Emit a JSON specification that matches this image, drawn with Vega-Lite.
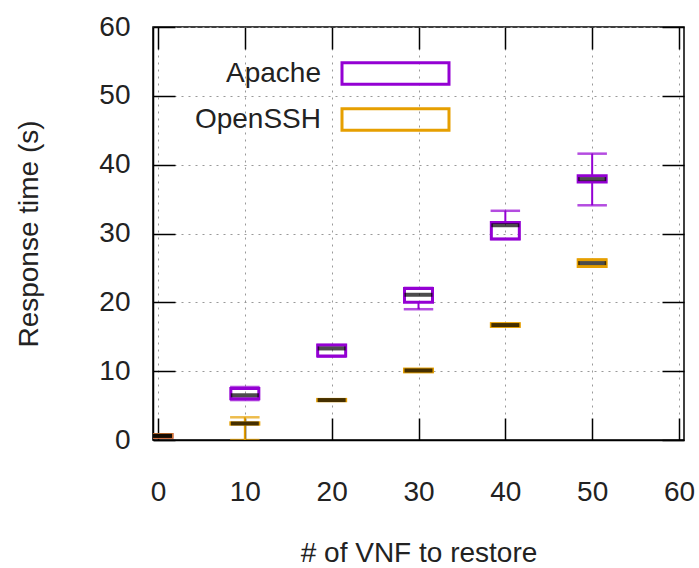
{
  "$schema": "https://vega.github.io/schema/vega-lite/v6.json",
  "autosize": "none",
  "width": 531,
  "height": 413,
  "padding": {"left": 153, "top": 27, "right": 15, "bottom": 128},
  "background": "white",
  "config": {
    "font": "Liberation Sans",
    "view": {"stroke": "black", "strokeWidth": 1.5},
    "axis": {"labelFont": "Liberation Sans", "titleFont": "Liberation Sans", "labelFontSize": 28, "titleFontSize": 28, "titleFontWeight": "normal", "labelColor": "#222", "titleColor": "#222", "domainColor": "black", "domainWidth": 1.5, "tickColor": "black", "tickWidth": 1.5, "gridColor": "#999", "gridDash": [2, 5], "gridWidth": 1}
  },
  "data": {"values": [
    {"series": "Apache", "n": 0, "min": 0.4, "q1": 0.4, "median": 0.6, "q3": 0.8, "max": 0.8},
    {"series": "Apache", "n": 10, "min": 5.8, "q1": 6.0, "median": 6.5, "q3": 7.5, "max": 7.7},
    {"series": "Apache", "n": 20, "min": 12.1, "q1": 12.2, "median": 13.3, "q3": 13.8, "max": 13.8},
    {"series": "Apache", "n": 30, "min": 19.0, "q1": 20.0, "median": 21.1, "q3": 22.0, "max": 22.1},
    {"series": "Apache", "n": 40, "min": 29.2, "q1": 29.2, "median": 31.2, "q3": 31.6, "max": 33.3},
    {"series": "Apache", "n": 50, "min": 34.1, "q1": 37.5, "median": 37.9, "q3": 38.4, "max": 41.6},
    {"series": "OpenSSH", "n": 0, "min": 0.4, "q1": 0.4, "median": 0.6, "q3": 0.8, "max": 0.8},
    {"series": "OpenSSH", "n": 10, "min": 0.0, "q1": 2.3, "median": 2.4, "q3": 2.5, "max": 3.3},
    {"series": "OpenSSH", "n": 20, "min": 5.7, "q1": 5.7, "median": 5.8, "q3": 5.9, "max": 5.9},
    {"series": "OpenSSH", "n": 30, "min": 9.9, "q1": 9.9, "median": 10.1, "q3": 10.3, "max": 10.3},
    {"series": "OpenSSH", "n": 40, "min": 16.5, "q1": 16.5, "median": 16.7, "q3": 16.9, "max": 16.9},
    {"series": "OpenSSH", "n": 50, "min": 25.2, "q1": 25.2, "median": 25.7, "q3": 26.2, "max": 26.2}
  ]},
  "resolve": {"axis": {"x": "independent", "y": "independent"}},
  "layer": [
    {
      "mark": {"type": "rule", "strokeWidth": 2, "clip": true},
      "encoding": {
        "x": {"field": "n", "type": "quantitative", "scale": {"domain": [0, 60], "nice": false}, "axis": {"title": "# of VNF to restore", "values": [0, 10, 20, 30, 40, 50, 60], "tickSize": -22, "labelPadding": 60, "titlePadding": 33, "grid": true}},
        "y": {"field": "min", "type": "quantitative", "scale": {"domain": [0, 60], "nice": false}, "axis": {"title": "Response time (s)", "values": [0, 10, 20, 30, 40, 50, 60], "tickSize": -22, "labelPadding": 45, "titlePadding": 55, "grid": true}},
        "y2": {"field": "q1"},
        "color": {"field": "series", "type": "nominal", "scale": {"domain": ["Apache", "OpenSSH"], "range": ["#9400d3", "#e69f00"]}}
      }
    },
    {
      "mark": {"type": "rule", "strokeWidth": 2, "clip": true},
      "encoding": {
        "x": {"field": "n", "type": "quantitative", "axis": {"orient": "top", "values": [0, 10, 20, 30, 40, 50, 60], "labels": false, "title": null, "tickSize": -22, "grid": false, "domain": false}},
        "y": {"field": "q3", "type": "quantitative", "axis": {"orient": "right", "values": [0, 10, 20, 30, 40, 50, 60], "labels": false, "title": null, "tickSize": -22, "grid": false, "domain": false}},
        "y2": {"field": "max"},
        "color": {"field": "series", "type": "nominal"}
      }
    },
    {
      "mark": {"type": "bar", "size": 28, "filled": false, "strokeWidth": 3, "clip": true},
      "encoding": {
        "x": {"field": "n", "type": "quantitative", "axis": null},
        "y": {"field": "q1", "type": "quantitative", "axis": null},
        "y2": {"field": "q3"},
        "color": {"field": "series", "type": "nominal", "legend": {"title": null, "orient": "none", "legendX": 214, "legendY": 18, "padding": 0, "symbolType": "M-2,-0.4H2V0.4H-2Z", "symbolSize": 2862, "symbolStrokeWidth": 3, "labelAlign": "right", "labelOffset": -103, "labelFontSize": 28, "labelFont": "Liberation Sans", "labelColor": "#222", "rowPadding": -8}}
      }
    },
    {
      "mark": {"type": "tick", "orient": "horizontal", "size": 28, "thickness": 1, "filled": false, "strokeWidth": 1.5, "clip": true},
      "encoding": {
        "x": {"field": "n", "type": "quantitative", "axis": null},
        "y": {"field": "min", "type": "quantitative", "axis": null},
        "color": {"field": "series", "type": "nominal"}
      }
    },
    {
      "mark": {"type": "tick", "orient": "horizontal", "size": 28, "thickness": 1, "filled": false, "strokeWidth": 1.5, "clip": true},
      "encoding": {
        "x": {"field": "n", "type": "quantitative", "axis": null},
        "y": {"field": "max", "type": "quantitative", "axis": null},
        "color": {"field": "series", "type": "nominal"}
      }
    },
    {
      "mark": {"type": "tick", "orient": "horizontal", "size": 28, "thickness": 4, "color": "black", "clip": true},
      "encoding": {
        "x": {"field": "n", "type": "quantitative", "axis": null},
        "y": {"field": "median", "type": "quantitative", "axis": null}
      }
    }
  ]
}
